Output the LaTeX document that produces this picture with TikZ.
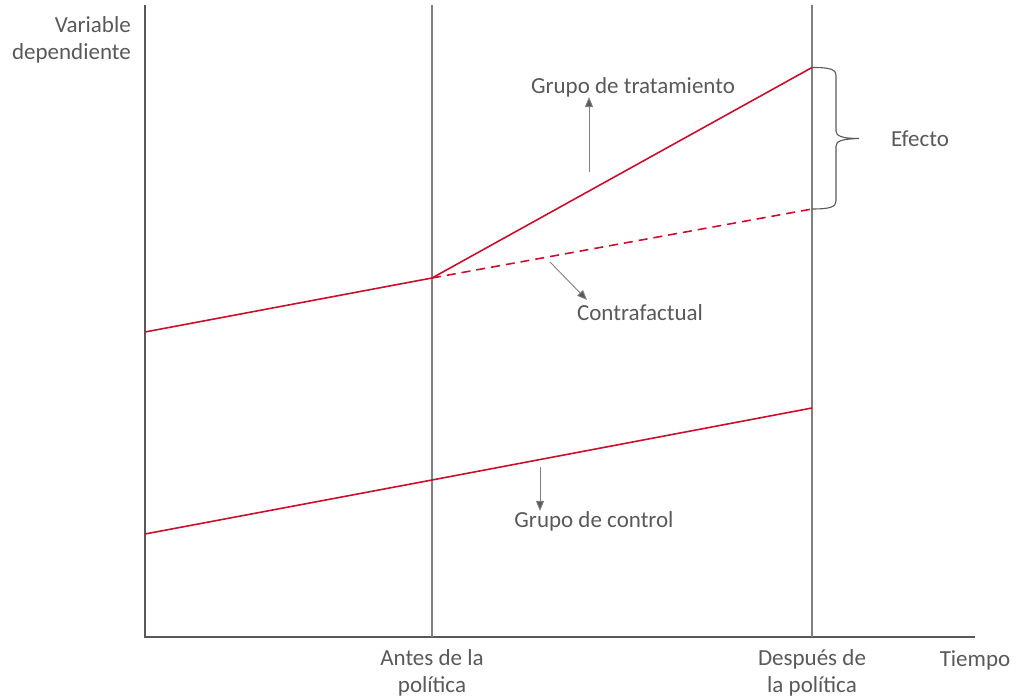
\documentclass[tikz,border=0pt]{standalone}
\usepackage{fontspec}
\setmainfont{Carlito}
\usetikzlibrary{arrows.meta}
\definecolor{txtgray}{HTML}{595959}
\definecolor{linegray}{HTML}{808080}
\definecolor{crimson}{HTML}{C8102E}
\tikzset{note/.style={text=txtgray,align=center,inner sep=0pt,
                      font=\fontsize{23}{27}\selectfont}}
\tikzset{axis/.style={draw=txtgray,line width=2.2pt}}
\tikzset{period/.style={draw=linegray,line width=1.1pt}}
\tikzset{trend/.style={draw=crimson,line width=1.6pt}}
\tikzset{pointer/.style={draw=linegray,line width=0.9pt,
                         -{Triangle[length=10pt,width=8pt,fill=txtgray]}}}
\begin{document}
\begin{tikzpicture}[x=1pt,y=-1pt]
    \useasboundingbox (0,0) rectangle (1017,700);
    % Axes
    \coordinate (origin) at (145,637);
    \coordinate (ytop) at (145,5);
    \coordinate (xend) at (975,637);
    \draw[axis] (ytop) -- (origin) -- (xend);
    % Vertical lines before / after the policy
    \foreach \x/\p in {432/antes,812/despues}{%
          \coordinate (\p top) at (\x,5);
          \coordinate (\p bot) at (\x,637);
          \draw[period] (\p top) -- (\p bot);
        }
    % Treatment group and counterfactual
    \coordinate (t0) at (145,332);
    \coordinate (t1) at (432,278);
    \coordinate (t2) at (812,67.5);
    \coordinate (cf) at (812,209);
    \draw[trend] (t0) -- (t1) -- (t2);
    \draw[trend,dash pattern=on 9pt off 6pt] (t1) -- (cf);
    % Control group
    \coordinate (k0) at (145,534);
    \coordinate (k1) at (432,480);
    \coordinate (k2) at (812,408);
    \draw[trend] (k0) -- (k1) -- (k2);
    % Effect brace
    \coordinate (btip) at (859,138.5);
    \draw[draw=txtgray,line width=1.1pt]
        (t2) .. controls (830,67.5) and (836,69) .. (836,76) -- (836,131)
        .. controls (836,136) and (842,138.5) .. (btip)
        .. controls (842,139) and (836,141) .. (836,146) -- (836,201)
        .. controls (836,207) and (830,209) .. (cf);
    \node[note] (efecto) at (920,139) {Efecto};
    % Labels with pointers
    \node[note] (tratamiento) at (633,87) {Grupo de tratamiento};
    \coordinate (ptrat) at (589,172);
    \draw[pointer] (ptrat) -- (tratamiento.south -| ptrat);
    \node[note] (contra) at (640,313) {Contrafactual};
    \coordinate (pcontra) at (550,262);
    \coordinate (pcontraend) at (587,300);
    \draw[pointer] (pcontra) -- (pcontraend);
    \node[note] (control) at (594,521) {Grupo de control};
    \coordinate (pcontrol) at (540,467);
    \draw[pointer] (pcontrol) -- (control.north -| pcontrol);
    % Axis labels
    \node[note,align=right,anchor=east] (ylab) at (131,40) {Variable\\dependiente};
    \node[note] (tiempo) at (975,660) {Tiempo};
    \node[note] (antes) at (432,673) {Antes de la\\política};
    \node[note] (despues) at (812,673) {Después de\\la política};
\end{tikzpicture}
\end{document}
